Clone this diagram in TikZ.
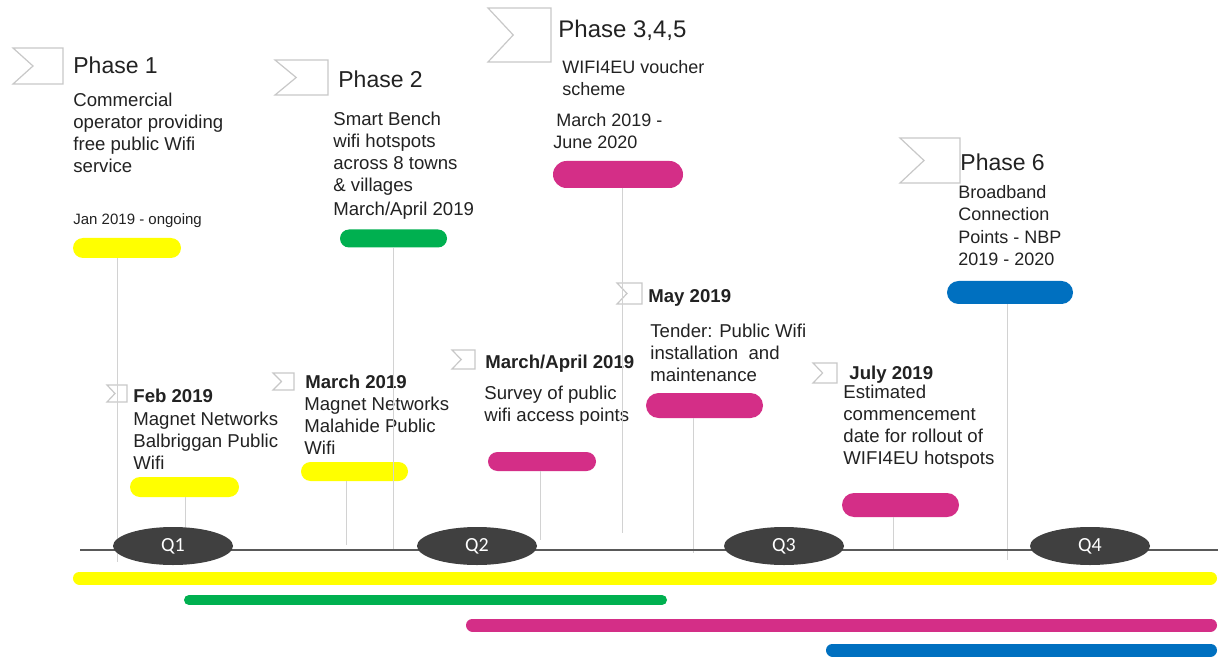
\documentclass[tikz,border=0pt]{standalone}
\usepackage{fontspec}
\setmainfont{Liberation Sans}
\newfontfamily\qfont{Carlito}
\usetikzlibrary{shapes.misc,shapes.geometric}

\definecolor{pyellow}{HTML}{FFFF00}
\definecolor{pgreen}{HTML}{00B050}
\definecolor{pmagenta}{HTML}{D42E87}
\definecolor{pblue}{HTML}{0070C0}
\definecolor{qgray}{HTML}{404040}
\definecolor{axisgray}{HTML}{595959}
\definecolor{flaggray}{HTML}{C8C8C8}
\definecolor{txtgray}{HTML}{222222}

% flag marker: x, y (top left), width, height
\newcommand{\phaseflag}[4]{%
  \draw[flagline] (#1,#2) -- ++(#3,0) -- ++(0,#4) -- ++(-#3,0)
    -- ({#1+0.4*#3},{#2+0.5*#4}) -- cycle;}

\begin{document}
\begin{tikzpicture}[
    x=0.5pt, y=-0.5pt,
    flagline/.style={draw=flaggray,line width=0.6pt,line join=miter},
    title/.style={anchor=north west,inner sep=0pt,text=txtgray,
        font=\fontsize{11.5}{14}\selectfont},
    body/.style={anchor=north west,inner sep=0pt,align=left,text=txtgray,
        font=\fontsize{9.3}{11}\selectfont},
    head/.style={body,font=\bfseries\fontsize{9.3}{11}\selectfont},
    pill/.style={rounded rectangle,inner sep=0pt},
    stem/.style={draw=gray!35,line width=0.4pt},
    quarter/.style={ellipse,fill=qgray,text=white,inner sep=0pt,
        minimum width=60pt,minimum height=19pt,
        font=\qfont\fontsize{10}{12}\selectfont},
    bar/.style={line width=6.5pt,line cap=round},
    ]

    \fill[white] (0,0) rectangle (1224,657);
    \useasboundingbox (0,0) rectangle (1224,657);

    %Phase 1
    \phaseflag{13}{48}{50}{36}
    \node[title] (t1) at (73,56) {Phase 1};
    \node[body] (b1) at (73,93) {Commercial\\operator providing\\free public Wifi\\service};
    \node[body,font=\fontsize{7.5}{9}\selectfont] (d1) at (73,213) {Jan 2019 - ongoing};
    \node[pill,fill=pyellow,minimum width=54pt,minimum height=10pt] (p1) at (127,248) {};

    %Phase 2
    \phaseflag{275}{60}{53}{35}
    \node[title] (t2) at (338,70) {Phase 2};
    \node[body] (b2) at (333,112) {Smart Bench\\wifi hotspots\\across 8 towns\\\& villages};
    \node[body] (d2) at (333,202) {March/April 2019};
    \node[pill,fill=pgreen,minimum width=53.5pt,minimum height=9pt] (p2) at (393.5,238.5) {};

    %Phase 3,4,5
    \phaseflag{488}{8}{63}{54}
    \node[title,font=\fontsize{12}{14}\selectfont] (t3) at (558,20) {Phase 3,4,5};
    \node[body,font=\fontsize{9}{11}\selectfont] (b3) at (562,60) {WIFI4EU voucher\\scheme};
    \node[body,font=\fontsize{9}{11}\selectfont] (d3) at (553,113) {\,March 2019 -\\June 2020};
    \node[pill,fill=pmagenta,minimum width=65pt,minimum height=13.5pt] (p3) at (618,174.5) {};

    %Phase 6
    \phaseflag{900}{138}{60}{45}
    \node[title] (t6) at (960,153) {Phase 6};
    \node[body,font=\fontsize{9}{11.2}\selectfont] (b6) at (958,185) {Broadband\\Connection\\Points - NBP\\2019 - 2020};
    \node[pill,fill=pblue,minimum width=63pt,minimum height=11.5pt] (p6) at (1010,292.5) {};

    %Feb 2019
    \phaseflag{107}{385}{20}{17}
    \node[head] (hf) at (133,389) {Feb 2019};
    \node[body] (bf) at (133,412) {Magnet Networks\\Balbriggan Public\\Wifi};
    \node[pill,fill=pyellow,minimum width=54.5pt,minimum height=10pt] (pf) at (184.5,487) {};

    %March 2019
    \phaseflag{273}{373}{21}{17}
    \node[head] (hm) at (305,375) {March 2019};
    \node[body] (bm) at (304,397) {Magnet Networks\\Malahide Public\\Wifi};
    \node[pill,fill=pyellow,minimum width=53.5pt,minimum height=9.5pt] (pm) at (354.5,471.5) {};

    %March/April 2019
    \phaseflag{452}{350}{23}{19}
    \node[head] (hs) at (485,355) {March/April 2019};
    \node[body] (bs) at (484,386) {Survey of public\\wifi access points};
    \node[pill,fill=pmagenta,minimum width=54pt,minimum height=9.5pt] (ps) at (542,461.5) {};

    %May 2019
    \phaseflag{617}{283}{25}{21}
    \node[head] (ht) at (648,289) {May 2019};
    \node[body] (bt) at (650,324) {Tender: Public Wifi\\installation\ \ and\\maintenance};
    \node[pill,fill=pmagenta,minimum width=58.5pt,minimum height=12.5pt] (pt) at (704.5,405.5) {};

    %July 2019
    \phaseflag{813}{363}{24}{20}
    \node[head] (hj) at (849,366) {July 2019};
    \node[body] (bj) at (843,385) {Estimated\\commencement\\date for rollout of\\WIFI4EU hotspots};
    \node[pill,fill=pmagenta,minimum width=58.5pt,minimum height=12pt] (pj) at (900.5,505) {};

    %stems down to the time line
    \foreach \p/\dx/\e in {p1/-10/562,pf/1/527,pm/-8/545,p2/0/550,ps/-2/540,
                           p3/4/533,pt/-11/553,pj/-7/550,p6/-3/560}
        \draw[stem] ([xshift=\dx*0.5pt]\p.south) -- ([xshift=\dx*0.5pt]\p.south |- 0,\e);

    %time line and quarters
    \coordinate (ax0) at (80,550);
    \coordinate (ax1) at (1218,550);
    \draw[axisgray,line width=1pt] (ax0) -- (ax1);
    \node[quarter] (q1) at (173,546) {Q1};
    \node[quarter] (q2) at (477,546) {Q2};
    \node[quarter] (q3) at (784,546) {Q3};
    \node[quarter] (q4) at (1090,546) {Q4};

    %phase bars
    \draw[bar,pyellow] (79.5,578) -- (1210.5,578);
    \draw[bar,pgreen,line width=5pt] (189,600) -- (662,600);
    \draw[bar,pmagenta] (472.5,625) -- (1210.5,625);
    \draw[bar,pblue] (832.5,650) -- (1210.5,650);

\end{tikzpicture}
\end{document}
